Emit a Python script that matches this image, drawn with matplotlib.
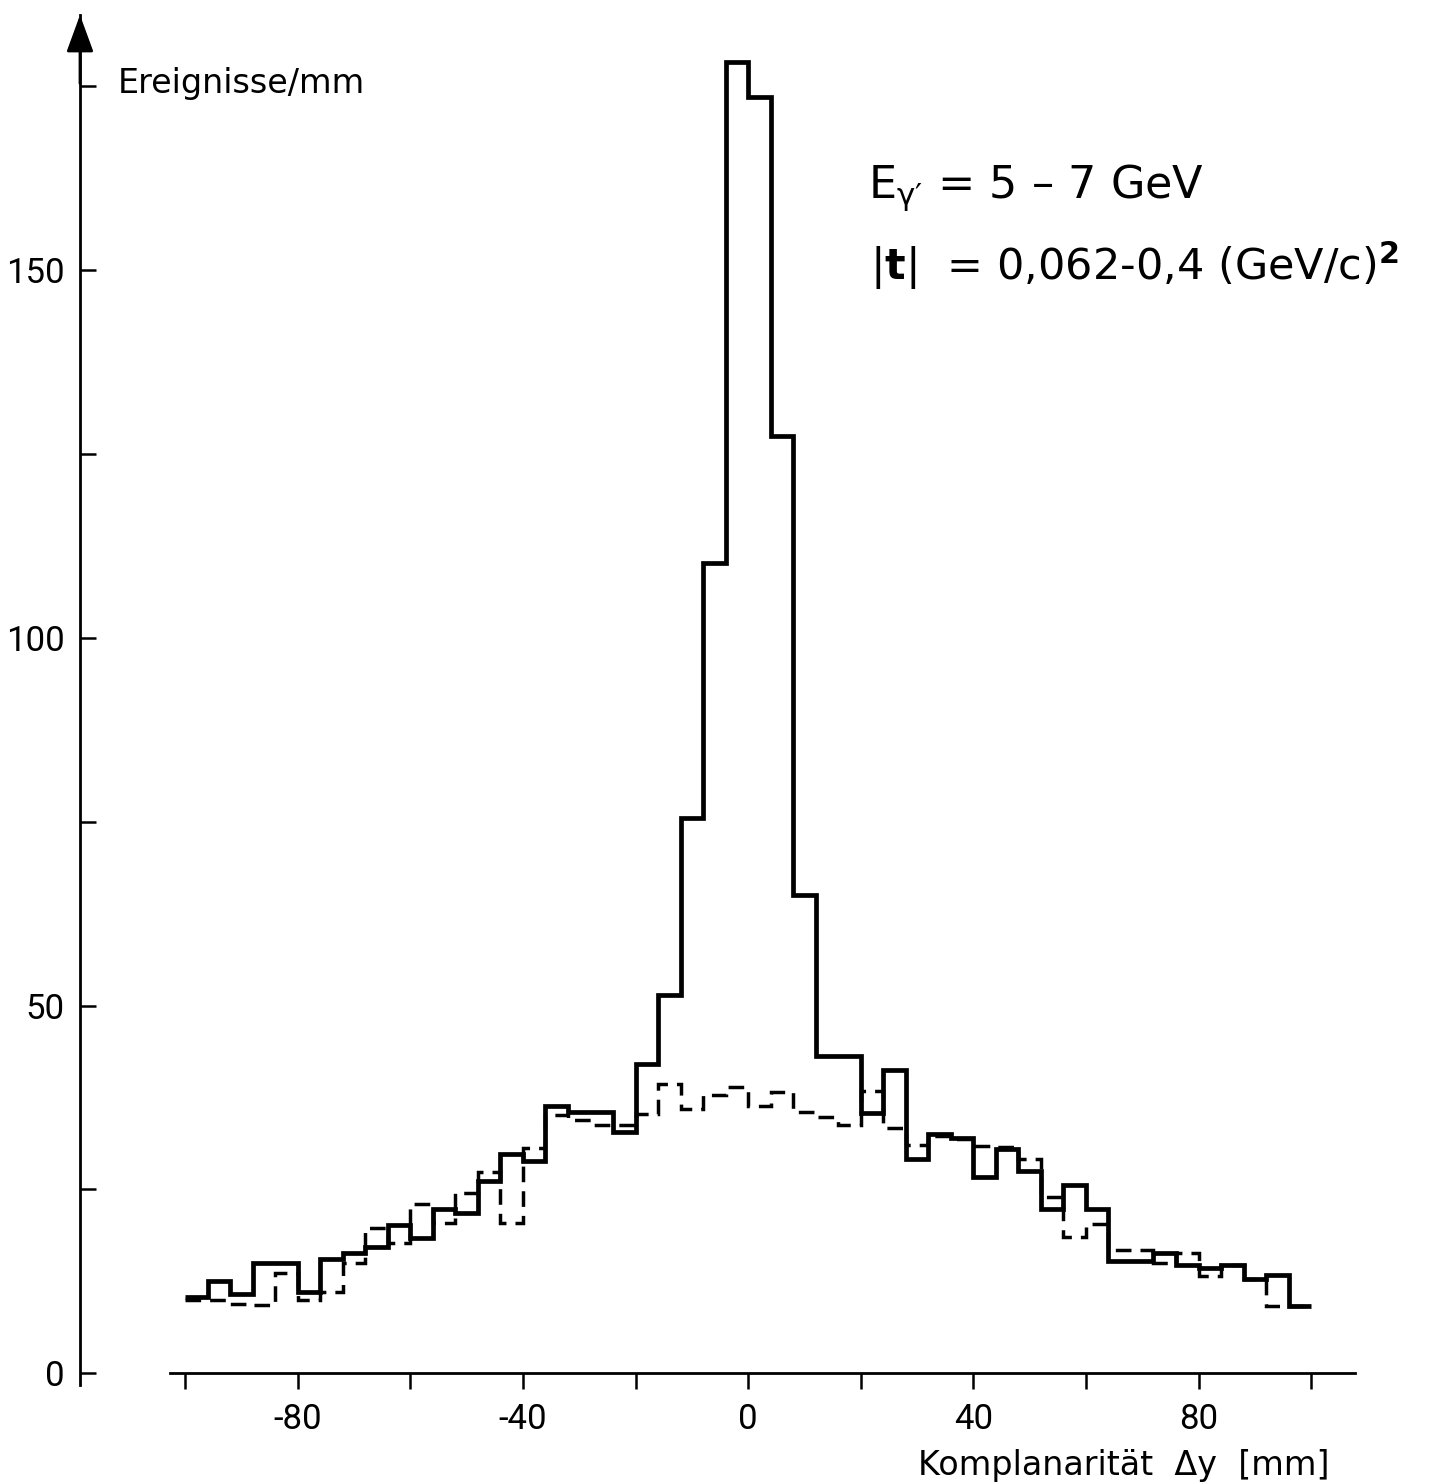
import numpy as np
import matplotlib.pyplot as plt

# Histogramm: Komplanaritaet, Bins von 4 mm zwischen -100 und 100 mm
edges = np.arange(-100, 101, 4)

# alle Ereignisse (durchgezogen)
solid = [10.3, 12.5, 10.8, 15.0, 15.0, 11.0, 15.5, 16.3, 17.1, 20.1,
         18.4, 22.3, 21.8, 26.1, 29.8, 28.8, 36.3, 35.5, 35.5, 32.8,
         42.0, 51.4, 75.5, 110.2, 178.3, 173.5, 127.4, 65.0, 43.2, 43.2,
         35.4, 41.2, 29.2, 32.6, 32.0, 26.7, 30.5, 27.5, 22.4, 25.6,
         22.4, 15.3, 15.3, 16.3, 14.7, 14.3, 14.7, 12.8, 13.3, 9.1]

# Untergrund (gestrichelt)
dashed = [10.0, 10.0, 9.4, 9.3, 13.6, 9.9, 11.0, 15.0, 19.7, 17.7,
          23.0, 20.4, 24.5, 27.4, 20.4, 30.6, 35.1, 34.5, 33.8, 33.7,
          35.2, 39.3, 35.9, 37.9, 38.9, 36.4, 38.2, 35.5, 34.8, 33.7,
          38.4, 33.3, 31.1, 32.3, 31.8, 30.9, 30.8, 29.1, 24.0, 18.5,
          20.3, 16.7, 16.7, 15.0, 16.4, 13.2, 14.7, 12.8, 9.1, 9.1]

xticks = list(range(-100, 101, 20))
xlabels = ['', '-80', '', '-40', '', '0', '', '40', '', '80', '']
yticks = list(range(0, 176, 25))
ylabels = ['0', '', '50', '', '100', '', '150', '']

W, H = 1433, 1482
fig = plt.figure(figsize=(W / 100, H / 100), dpi=100)
fig.patch.set_facecolor('white')

# Achsen so legen, dass 0 bei ~748 px liegt und y=0 bei ~1373 px
ax = fig.add_axes([170 / W, (H - 1385) / H, (1355 - 170) / W, (1385 - 15) / H])
ax.set_xlim(-102.7, 107.8)
ax.set_ylim(-1.6, 184.7)

ax.stairs(solid, edges, baseline=None, color='black', lw=3.4)
ax.stairs(dashed, edges, baseline=None, color='black', lw=2.5,
          linestyle=(0, (4.5, 2.6)))

for s in ['top', 'right']:
    ax.spines[s].set_visible(False)
ax.spines['bottom'].set_position(('data', 0))
ax.spines['left'].set_position(('outward', 90 * 0.72))
ax.spines['bottom'].set_linewidth(2.0)
ax.spines['left'].set_linewidth(2.0)

tick_font = ['Roboto', 'DejaVu Sans']
ax.set_xticks(xticks)
ax.set_xticklabels(xlabels, fontsize=25, family=tick_font)
ax.set_yticks(yticks)
ax.set_yticklabels(ylabels, fontsize=25, family=tick_font)
ax.tick_params(axis='x', direction='out', length=11.5, width=1.8, pad=10)
ax.tick_params(axis='y', direction='in', length=11.5, width=1.8, pad=11)

# Pfeil an der y-Achse
xa = -90 / (1355 - 170)
ax.annotate('', xy=(xa, 1.0), xycoords='axes fraction',
            xytext=(xa, 0.95), textcoords='axes fraction',
            arrowprops=dict(arrowstyle='-|>,head_length=1.15,head_width=0.42',
                            color='black', lw=2.0, mutation_scale=20,
                            shrinkA=0, shrinkB=0))

fig.text(118 / W, 1 - 83 / H, 'Ereignisse/mm', fontsize=24,
         ha='left', va='center')
fig.text(1330 / W, 1 - 1465 / H, 'Komplanarität  Δy  [mm]', fontsize=24,
         ha='right', va='center')

fig.text(868 / W, 1 - 198 / H, r"E$_\mathregular{γ′}$ = 5 – 7 GeV",
         fontsize=32, ha='left', va='baseline')
fig.text(870 / W, 1 - 280 / H, r"|$\mathbf{t}$|  = 0,062-0,4 (GeV/c)$^\mathbf{2}$",
         fontsize=31, ha='left', va='baseline')

fig.savefig('out.png', dpi=100, facecolor='white')
